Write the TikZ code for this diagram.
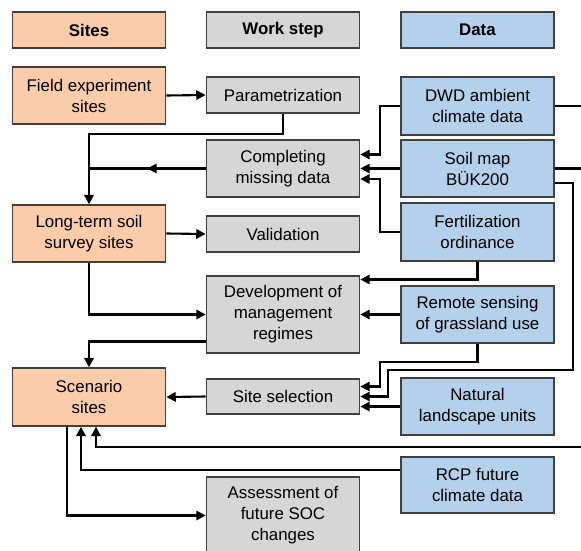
\documentclass[tikz,border=0pt]{standalone}
\usepackage{fontspec}
\setmainfont{Liberation Sans}
\usetikzlibrary{arrows.meta,calc,decorations.markings}

\definecolor{siteorange}{RGB}{251,204,170}
\definecolor{stepgray}{RGB}{214,214,214}
\definecolor{datablue}{RGB}{180,208,234}
\definecolor{boxline}{RGB}{64,64,64}

\begin{document}
\begin{tikzpicture}[x=0.03cm, y=-0.03cm,
    box/.style={draw=boxline, line width=1.2pt, minimum width=4.6cm, align=center,
      font=\fontsize{14.4}{17.9}\selectfont, inner sep=2pt},
    sitebox/.style={box, fill=siteorange},
    workbox/.style={box, fill=stepgray},
    databox/.style={box, fill=datablue},
    arr/.style={line width=1.8pt, -{Triangle[length=8pt,width=8pt]}},
    line/.style={line width=1.8pt},
    midarr/.style={line width=1.8pt, postaction={decorate},
      decoration={markings, mark=at position 0.5 with {\arrow{Triangle[length=8pt,width=8pt]}}}}]
  \useasboundingbox (0,0) rectangle (581,550);
  \clip (0,0) rectangle (581,550);

  % headers
  \node[sitebox, minimum height=1.08cm] (sites) at (89,30) {\textbf{Sites}};
  \node[workbox, minimum height=1.08cm] (work) at (283,30) {\textbf{Work step}};
  \node[databox, minimum height=1.08cm] (data) at (477.5,30) {\textbf{Data}};

  % sites
  \node[sitebox, minimum height=1.71cm] (field) at (89,95.5) {Field experiment\\sites};
  \node[sitebox, minimum height=1.71cm] (longterm) at (89,233.5) {Long-term soil\\survey sites};
  \node[sitebox, minimum height=1.74cm] (scenario) at (89,397) {Scenario\\sites};

  % work steps
  \node[workbox, minimum height=1.08cm] (param) at (283,95) {Parametrization};
  \node[workbox, minimum height=1.71cm] (complete) at (283,168.5) {Completing\\missing data};
  \node[workbox, minimum height=1.08cm] (valid) at (283,234) {Validation};
  \node[workbox, minimum height=2.31cm] (devel) at (283,314.5) {Development of\\management\\regimes};
  \node[workbox, minimum height=1.05cm] (sitesel) at (283,396.5) {Site selection};
  \node[workbox, minimum height=2.31cm] (assess) at (283,515.5) {Assessment of\\future SOC\\changes};

  % data
  \node[databox, minimum height=1.74cm] (dwd) at (477.5,106) {DWD ambient\\climate data};
  \node[databox, minimum height=1.71cm] (soil) at (477.5,168.5) {Soil map\\BÜK200};
  \node[databox, minimum height=1.74cm] (fert) at (477.5,232) {Fertilization\\ordinance};
  \node[databox, minimum height=1.71cm] (remote) at (477.5,314.5) {Remote sensing\\of grassland use};
  \node[databox, minimum height=1.71cm] (natural) at (477.5,406.5) {Natural\\landscape units};
  \node[databox, minimum height=1.68cm] (rcp) at (477.5,485) {RCP future\\climate data};

  % free ends beyond the right margin
  \coordinate (dwdend) at (590,106);
  \coordinate (soilend) at (590,168.5);
  \coordinate (climin) at (590,447);

  \draw[arr] (field.east) -- (param.west);
  \draw[arr] (param.south) -- ++(0,20) -| (longterm.north);
  \draw[midarr] (complete.west) -- (longterm.north |- complete.west);
  \draw[arr] (dwd.west) -- ++(-20,0) |- ($(complete.east)+(0,-14)$);
  \draw[arr] (soil.west) -- (complete.east);
  \draw[arr] (fert.west) -- ++(-20,0) |- ($(complete.east)+(0,10.5)$);
  \draw[arr] (longterm.east) -- (valid.west);
  \draw[arr] (fert.south) |- ($(devel.east)+(0,-35)$);
  \draw[arr] (remote.west) -- (devel.east);
  \draw[arr] (longterm.south) |- (devel.west);
  \draw[arr] ($(devel.west)+(0,27)$) -| (scenario.north);
  \draw[arr] (remote.south) -- ++(0,18) -- ++(-97.5,0) |- ($(sitesel.east)+(0,-10)$);
  \draw[arr] ($(soil.east)+(0,14.5)$) -- ++(18,0) -- ++(0,187) -- ++(-185,0) |- (sitesel.east);
  \draw[arr] (natural.west) -- (sitesel.east |- natural.west);
  \draw[arr] (sitesel.west) -- (scenario.east);
  \draw[line] (dwd.east) -- (dwdend);
  \draw[line] (soil.east) -- (soilend);
  \draw[arr] (climin) -| ($(scenario.south)+(7,0)$);
  \draw[arr] ($(rcp.west)+(0,-15)$) -| ($(scenario.south)+(-8,0)$);
  \draw[arr] ($(scenario.south)+(-22,0)$) |- (assess.west);
\end{tikzpicture}
\end{document}
